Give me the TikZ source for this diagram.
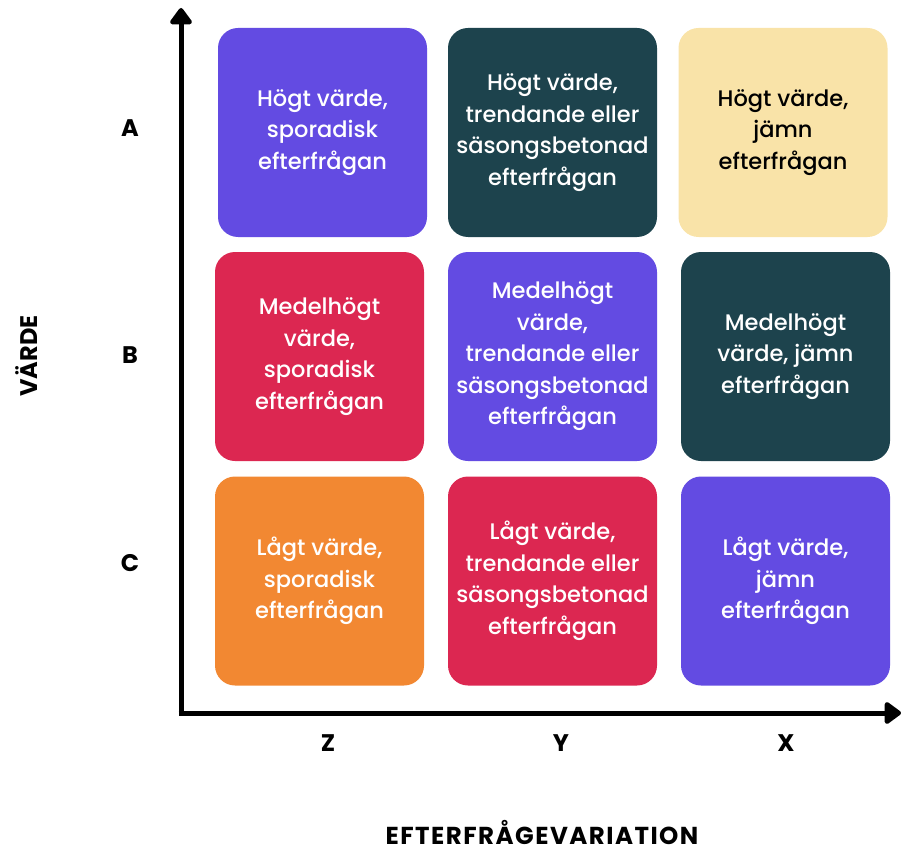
\documentclass[tikz,border=0pt]{standalone}
\usepackage{fontspec}
\setmainfont{Poppins}
\newfontfamily\cellfont{Poppins}[UprightFont=* Medium]
\newfontfamily\titlefont{Poppins}[UprightFont=* Bold, LetterSpace=6]
\usetikzlibrary{arrows.meta}
\definecolor{cpurple}{HTML}{634BE2}
\definecolor{cteal}{HTML}{1D434D}
\definecolor{cyellow}{HTML}{F9E3A8}
\definecolor{cred}{HTML}{DC2751}
\definecolor{corange}{HTML}{F28832}
\tikzset{
  cell/.style={rounded corners=20pt, minimum width=209pt, minimum height=209pt, inner sep=0pt, align=center, text=white, font=\cellfont\fontsize{22.5}{31.5}\selectfont},
  axislabel/.style={font=\fontsize{24}{28}\selectfont\bfseries},
  axisline/.style={line width=5pt, -{Triangle[width=25pt,length=18pt,round]}}
}
\begin{document}
\begin{tikzpicture}[x=1pt,y=-1pt]
\useasboundingbox (0,0) rectangle (901,850);
% row A
\node[cell, fill=cpurple] (az) at (322.5,132.5) {Högt värde,\\sporadisk\\efterfrågan};
\node[cell, fill=cteal] (ay) at (552.5,132.5) {Högt värde,\\trendande eller\\säsongsbetonad\\efterfrågan};
\node[cell, fill=cyellow, text=black] (ax) at (783,132.5) {Högt värde,\\jämn\\efterfrågan};
% row B
\node[cell, fill=cred] (bz) at (319.5,356.5) {Medelhögt\\värde,\\sporadisk\\efterfrågan};
\node[cell, fill=cpurple] (by) at (552.5,356.5) {Medelhögt\\värde,\\trendande eller\\säsongsbetonad\\efterfrågan};
\node[cell, fill=cteal] (bx) at (785.5,356.5) {Medelhögt\\värde, jämn\\efterfrågan};
% row C
\node[cell, fill=corange] (cz) at (319.5,581) {Lågt värde,\\sporadisk\\efterfrågan};
\node[cell, fill=cred] (cy) at (552.5,581) {Lågt värde,\\trendande eller\\säsongsbetonad\\efterfrågan};
\node[cell, fill=cpurple] (cx) at (785.5,581) {Lågt värde,\\jämn\\efterfrågan};
% axes
\coordinate (o) at (181,713);
\coordinate (ytop) at (181,8);
\coordinate (xend) at (901,713);
\draw[axisline] (o) -- (ytop);
\draw[axisline] ([xshift=-2.5pt]o) -- (xend);
% labels
\node[axislabel] (la) at (130,128) {A};
\node[axislabel] (lb) at (130,355) {B};
\node[axislabel] (lc) at (130,563) {C};
\node[axislabel] (lz) at (328,743) {Z};
\node[axislabel] (ly) at (561,743) {Y};
\node[axislabel] (lx) at (786,743) {X};
\node[axislabel, rotate=90] (lv) at (27,356) {VÄRDE};
\node[anchor=base, font=\titlefont\fontsize{24.5}{27}\selectfont, inner sep=0pt, text depth=0pt] (le) at (542,844) {EFTERFRÅGEVARIATION};
\end{tikzpicture}
\end{document}
